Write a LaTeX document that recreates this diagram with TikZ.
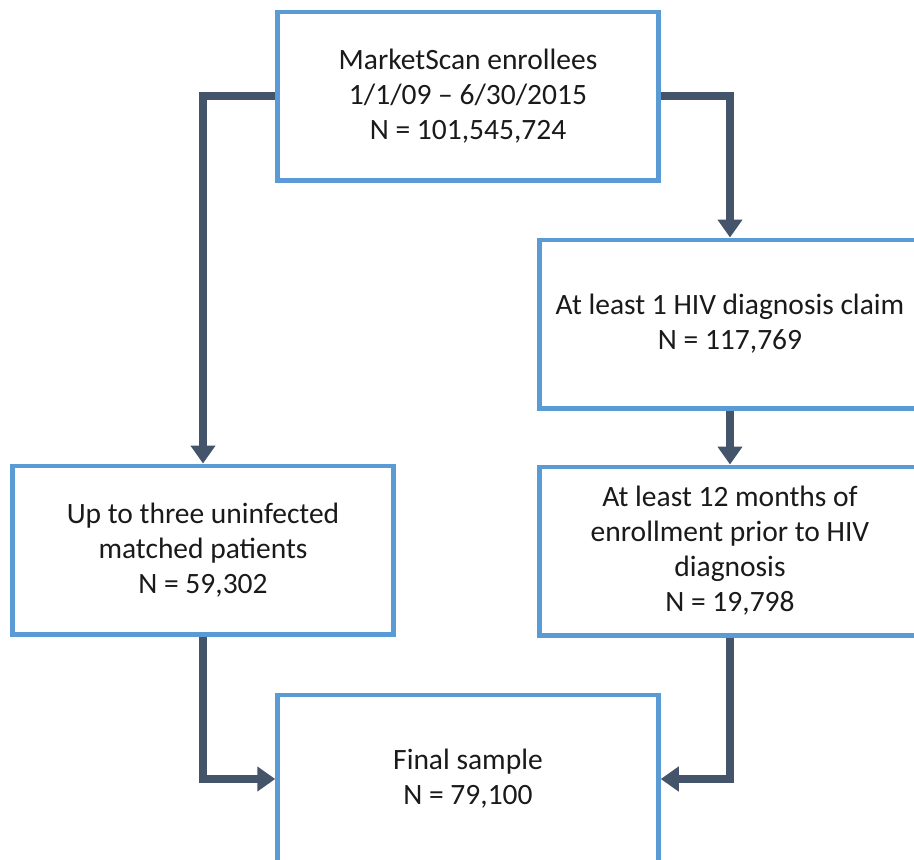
\documentclass[tikz,border=0pt]{standalone}
\usepackage{fontspec}
\setmainfont{Carlito}
\usetikzlibrary{arrows.meta}
\definecolor{boxblue}{HTML}{5B9BD5}
\definecolor{arrowdark}{HTML}{44546A}
\definecolor{txt}{HTML}{1A1A1A}
\begin{document}
\begin{tikzpicture}[x=1pt,y=-1pt,
  flowbox/.style={draw=boxblue,line width=4.5pt,fill=white,minimum width=381pt,minimum height=168.5pt,
    align=center,text=txt,font=\fontsize{29.5}{35}\selectfont,inner sep=0pt},
  conn/.style={draw=arrowdark,line width=8pt,line join=miter,-{Triangle[length=18pt,width=24pt]}}]
\useasboundingbox (0,0) rectangle (914,860);
\clip (0,0) rectangle (914,860);
\fill[white] (0,0) rectangle (914,860);
\node[flowbox] (top) at (468,96) {MarketScan enrollees\\1/1/09 – 6/30/2015\\N = 101,545,724};
\node[flowbox] (right1) at (730,324) {At least 1 HIV diagnosis claim\\N = 117,769};
\node[flowbox] (right2) at (730,551) {At least 12 months of\\enrollment prior to HIV\\diagnosis\\N = 19,798};
\node[flowbox] (left) at (203,550) {Up to three uninfected\\matched patients\\N = 59,302};
\node[flowbox] (bottom) at (468,779) {Final sample\\N = 79,100};
\draw[conn] (top.west) -| (left.north);
\draw[conn] (top.east) -| (right1.north);
\draw[conn] (right1.south) -- (right2.north);
\draw[conn] (left.south) |- (bottom.west);
\draw[conn] (right2.south) |- (bottom.east);
\end{tikzpicture}
\end{document}
